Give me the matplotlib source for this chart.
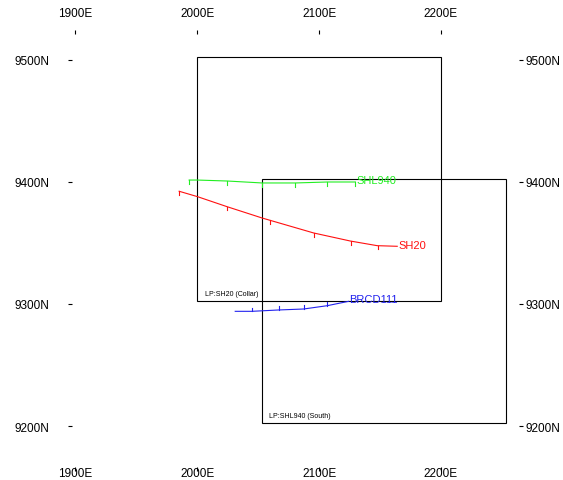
import numpy as np
import matplotlib
matplotlib.use("Agg")
import matplotlib.pyplot as plt
import matplotlib.transforms as mtrans
from matplotlib.patches import Rectangle

plt.rcParams['font.family'] = ['Liberation Sans', 'DejaVu Sans']

# axis ticks
x_ticks = [1900, 2000, 2100, 2200]
y_ticks = [9200, 9300, 9400, 9500]
x_labels = ["1900E", "2000E", "2100E", "2200E"]
y_labels = ["9200N", "9300N", "9400N", "9500N"]

# section boxes
box_names = ["LP:SH20 (Collar)", "LP:SHL940 (South)"]
box_x0 = [2000, 2053]
box_y0 = [9302.5, 9202.5]
box_x1 = [2200, 2253]
box_y1 = [9502.5, 9402.5]

# hole traces
shl940_x = [1993.4, 2000.0, 2024.7, 2053.4, 2080.5, 2106.8, 2129.8]
shl940_y = [9401.6, 9401.6, 9400.8, 9399.2, 9399.2, 9400.0, 9400.0]
shl940_ticks = [1993.4, 2024.7, 2053.4, 2080.5, 2106.8, 2129.8]

sh20_x = [1985.2, 2000.2, 2024.4, 2053.2, 2095.6, 2125.7, 2147.7, 2164.1]
sh20_y = [9392.4, 9388.0, 9379.8, 9370.5, 9358.2, 9351.6, 9347.8, 9347.3]
sh20_ticks = [1985.2, 2024.4, 2060.0, 2095.6, 2126.0, 2148.0]

brcd_x = [2031.2, 2044.9, 2066.8, 2087.3, 2106.6, 2124.3]
brcd_y = [9294.0, 9294.0, 9295.1, 9295.9, 9298.6, 9302.2]
brcd_ticks = [2044.9, 2066.8, 2087.3, 2106.6]

fig = plt.figure(figsize=(5.63, 4.81), dpi=100)
W, H = 563, 481
ax = fig.add_axes([72 / W, 1 - 468 / H, (519 - 72) / W, (468 - 35) / H])
ax.set_xlim(1897.3, 2264.0)
ax.set_ylim(9166.4, 9521.3)
for s in ax.spines.values():
    s.set_visible(False)

ax.set_xticks(x_ticks)
ax.set_xticklabels(x_labels)
ax.set_yticks(y_ticks)
ax.set_yticklabels(y_labels)
ax.tick_params(axis='x', top=True, labeltop=True, bottom=True, labelbottom=True,
               direction='out', length=3, width=0.8, pad=-1, labelsize=8.5)
ax.tick_params(axis='y', left=True, right=True, labelleft=True, labelright=True,
               direction='out', length=3, width=0.8, pad=2, labelsize=8.5)

# top labels sit well above their ticks, bottom ones overlap theirs a little,
# left labels leave a gap before the dash
off_top = mtrans.ScaledTranslation(0, 12 / 100, fig.dpi_scale_trans)
off_bot = mtrans.ScaledTranslation(0, 3 / 100, fig.dpi_scale_trans)
for t in ax.xaxis.get_major_ticks():
    t.label2.set_transform(t.label2.get_transform() + off_top)
    t.label1.set_transform(t.label1.get_transform() + off_bot)
off_left = mtrans.ScaledTranslation(-16 / 100, 0, fig.dpi_scale_trans)
for t in ax.yaxis.get_major_ticks():
    t.label1.set_transform(t.label1.get_transform() + off_left)

for x0, y0, x1, y1, name in zip(box_x0, box_y0, box_x1, box_y1, box_names):
    ax.add_patch(Rectangle((x0, y0), x1 - x0, y1 - y0, fill=False,
                           edgecolor='black', linewidth=0.8))
    ax.text(x0 + 6, y0 + 3, name, fontsize=5, ha='left', va='bottom')


def trace(xs, ys, ticks, color, name, tdir, lx, ly):
    ax.plot(xs, ys, color=color, linewidth=0.8)
    ty = np.interp(ticks, xs, ys)
    for tx, tyy in zip(ticks, ty):
        ax.plot([tx, tx], [tyy, tyy + tdir * 3], color=color, linewidth=0.8)
    ax.text(lx, ly, name, color=color, fontsize=8, ha='left', va='center')


trace(shl940_x, shl940_y, shl940_ticks, '#22ee22', 'SHL940', -1, 2131, 9402)
trace(sh20_x, sh20_y, sh20_ticks, '#ff1010', 'SH20', -1, 2165, 9348.5)
trace(brcd_x, brcd_y, brcd_ticks, '#2222ee', 'BRCD111', 1, 2125, 9304)

fig.savefig("out.png", dpi=100)
